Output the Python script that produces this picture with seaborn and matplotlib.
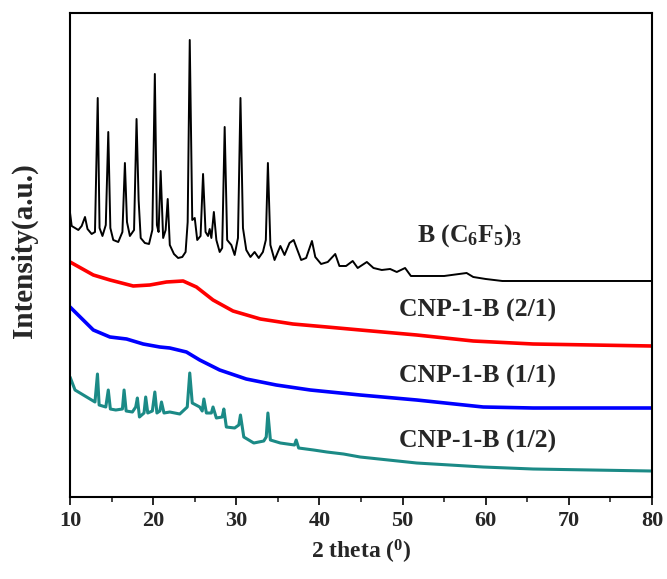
import numpy as np
import pandas as pd
import seaborn as sns
import matplotlib.pyplot as plt
from matplotlib.ticker import MultipleLocator

# traces: 2 theta (deg) and stacked intensity (a.u.)
bcf_x = [10.0, 10.2, 10.6, 11.0, 11.4, 11.8, 12.1, 12.6, 13.0, 13.33, 13.55, 13.9,
         14.3, 14.6, 14.85, 15.2, 15.8, 16.3, 16.6, 16.85, 17.2, 17.7, 18.0, 18.25,
         18.5, 19.0, 19.5, 19.9, 20.2, 20.45, 20.65, 20.9, 21.2, 21.5, 21.75, 22.0,
         22.5, 23.0, 23.5, 23.9, 24.15, 24.4, 24.7, 25.0, 25.3, 25.7, 26.0, 26.3,
         26.6, 26.8, 27.0, 27.3, 27.6, 28.0, 28.3, 28.6, 28.9, 29.4, 29.8, 30.2,
         30.5, 30.8, 31.2, 31.7, 32.2, 32.7, 33.2, 33.55, 33.8, 34.1, 34.6, 35.3,
         35.8, 36.4, 36.9, 37.3, 37.8, 38.4, 39.1, 39.5, 40.2, 41.0, 41.9, 42.4,
         43.2, 44.0, 44.6, 45.7, 46.5, 47.5, 48.5, 49.3, 50.3, 51.0, 53.0, 55.0,
         57.7, 58.5, 60.0, 62.0, 66.0, 70.0, 75.0, 80.0]
bcf_y = [284, 271, 269, 267, 271, 280, 268, 263, 265, 399, 269, 261,
         272, 365, 269, 257, 255, 265, 334, 275, 261, 267, 378, 297,
         259, 254, 253, 267, 423, 272, 265, 326, 259, 267, 298, 252,
         243, 239, 240, 245, 275, 457, 277, 279, 257, 261, 323, 265,
         261, 268, 259, 285, 257, 245, 249, 370, 257, 252, 242, 259,
         399, 269, 247, 240, 245, 239, 245, 257, 334, 252, 237, 251,
         242, 254, 257, 248, 237, 239, 256, 240, 233, 235, 243, 231,
         231, 236, 229, 235, 229, 227, 228, 225, 229, 221, 221, 221,
         224, 220, 218, 216, 216, 216, 216, 216]

cnp21_x = [10.0, 12.8, 14.8, 17.6, 19.6, 21.6, 23.6, 25.2, 27.2, 29.6, 32.9,
           36.8, 40.9, 44.9, 51.7, 58.5, 65.7, 72.8, 80.0]
cnp21_y = [235, 222, 217, 211, 212, 215, 216, 210, 197, 186, 178,
           173, 170, 167, 162, 156, 153, 152, 151]

cnp11_x = [10.0, 12.8, 14.8, 16.8, 18.8, 20.8, 22.0, 24.0, 25.6, 28.0, 31.2,
           34.8, 38.9, 44.9, 51.7, 59.7, 65.7, 72.8, 80.0]
cnp11_y = [190, 167, 160, 158, 153, 150, 149, 145, 137, 127, 118,
           112, 107, 102, 97, 90, 89, 89, 89]

cnp12_x = [10.0, 10.6, 12.0, 13.0, 13.3, 13.5, 14.3, 14.6, 14.85, 15.5, 16.3,
           16.5, 16.75, 17.5, 17.9, 18.1, 18.35, 18.9, 19.1, 19.35, 19.9, 20.2,
           20.45, 20.8, 21.0, 21.3, 22.0, 23.2, 24.1, 24.4, 24.7, 25.6, 25.9,
           26.1, 26.4, 27.0, 27.2, 27.6, 28.3, 28.5, 28.8, 29.8, 30.3, 30.5,
           30.9, 32.1, 33.3, 33.6, 33.8, 34.1, 35.3, 37.0, 37.2, 37.5, 39.3,
           40.9, 42.9, 44.9, 51.7, 59.7, 65.7, 72.8, 80.0]
cnp12_y = [120, 107, 100, 95, 123, 92, 90, 107, 88, 87, 88,
           107, 86, 85, 90, 99, 80, 84, 100, 84, 86, 105,
           84, 86, 95, 84, 85, 83, 90, 124, 94, 90, 86,
           98, 84, 84, 90, 79, 80, 88, 70, 69, 72, 82,
           60, 54, 56, 60, 84, 57, 54, 52, 57, 49, 47,
           45, 43, 40, 34, 30, 28, 27, 26]

names = ["B(C6F5)3", "CNP-1-B (2/1)", "CNP-1-B (1/1)", "CNP-1-B (1/2)"]
colors = ["#000000", "#ff0000", "#0000ff", "#1b8a86"]
widths = [1.4, 2.6, 2.6, 2.2]
traces = [(bcf_x, bcf_y), (cnp21_x, cnp21_y), (cnp11_x, cnp11_y), (cnp12_x, cnp12_y)]

labels = ["B (C$_6$F$_5$)$_3$", "CNP-1-B (2/1)", "CNP-1-B (1/1)", "CNP-1-B (1/2)"]
label_x = [58.1, 59.0, 59.0, 59.0]
label_y = [255, 180, 114, 49]

sns.set_style("white")
plt.rcParams['font.family'] = ['Liberation Serif', 'DejaVu Serif']
plt.rcParams['font.weight'] = 'bold'
plt.rcParams['mathtext.default'] = 'regular'

fig = plt.figure(figsize=(6.67, 5.79), dpi=100)
ax = fig.add_axes([0.105, 0.1416, 0.8725, 0.836])

for name, (xs, ys), c, lw in zip(names, traces, colors, widths):
    df = pd.DataFrame({"theta": xs, "intensity": ys})
    sns.lineplot(data=df, x="theta", y="intensity", color=c, linewidth=lw,
                 sort=False, estimator=None, ax=ax)

for t, x, y in zip(labels, label_x, label_y):
    ax.text(x, y, t, ha='center', va='baseline', fontsize=18.5, fontweight='bold')

ax.set_xlim(10, 80)
ax.set_ylim(0, 484)
ax.xaxis.set_major_locator(MultipleLocator(10))
ax.xaxis.set_minor_locator(MultipleLocator(5))
ax.set_yticks([])
ax.tick_params(axis='x', which='major', direction='out', length=6, width=1.4,
               labelsize=16, pad=4, bottom=True)
ax.tick_params(axis='x', which='minor', direction='out', length=3.5, width=1.2,
               bottom=True)
for lab in ax.get_xticklabels():
    lab.set_fontweight('bold')
for s in ax.spines.values():
    s.set_linewidth(1.5)
    s.set_color('black')

ax.set_xlabel("2 theta ($^{0}$)", fontsize=17, fontweight='bold', labelpad=5)
ax.set_ylabel("Intensity(a.u.)", fontsize=21, fontweight='bold')
ax.yaxis.set_label_coords(-0.055, 0.51)

fig.savefig("out.png", dpi=100)
